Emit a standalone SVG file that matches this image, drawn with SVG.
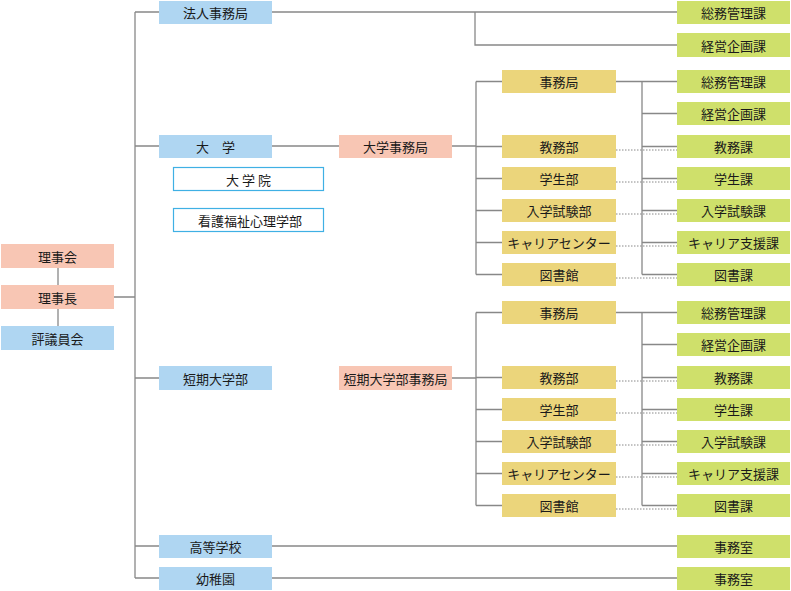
<svg xmlns="http://www.w3.org/2000/svg" width="791" height="591" viewBox="0 0 791 591">
<style>
text{font-family:"Noto Sans CJK JP","Noto Sans",sans-serif;font-size:13px;fill:#1a1a1a;text-anchor:middle;dominant-baseline:central}
.b{fill:#afd6f2}.s{fill:#f8c6b4}.y{fill:#ebd57b}.g{fill:#cfe06b}.o{fill:#fff;stroke:#3fb0e4;stroke-width:1.2}
.ln{fill:none;stroke:#888;stroke-width:1.3}
.dt{fill:none;stroke:#888;stroke-width:1;stroke-dasharray:1.5 1.5}
</style>
<g id="connectors">
<path class="ln" d="M58 256V338M114 297H135M135 12V578M135 12H159M135 146H159M135 378H159M135 546H159M135 578H159"/>
<path class="ln" d="M272 12H677M475 12V45H677M272 146H339M272 546H677M272 578H677"/>
<path class="ln" d="M452 146H476M476 81.5V274.5M476 81.5H502M476 146.5H502M476 178.5H502M476 210.5H502M476 242.5H502M476 274.5H502"/>
<path class="ln" d="M616 81.5H677M642 81.5V274.5M642 113.5H677M642 146.5H677M642 178.5H677M642 210.5H677M642 242.5H677M642 274.5H677"/>
<path class="dt" d="M616 150H677M616 182H677M616 214H677M616 246H677M616 278H677"/>
<path class="ln" d="M452 378H476M476 312.5V505.5M476 312.5H502M476 377.5H502M476 409.5H502M476 441.5H502M476 473.5H502M476 505.5H502"/>
<path class="ln" d="M616 312.5H677M642 312.5V505.5M642 344.5H677M642 377.5H677M642 409.5H677M642 441.5H677M642 473.5H677M642 505.5H677"/>
<path class="dt" d="M616 381H677M616 413H677M616 445H677M616 477H677M616 509H677"/>
</g>
<g id="rijikai"><rect class="s" x="1" y="244" width="113" height="24"/><text x="57.5" y="256">理事会</text></g>
<g id="rijicho"><rect class="s" x="1" y="285" width="113" height="24"/><text x="57.5" y="297">理事長</text></g>
<g id="hyogiinkai"><rect class="b" x="1" y="326" width="113" height="24"/><text x="57.5" y="338">評議員会</text></g>
<g id="hojin"><rect class="b" x="159" y="1" width="113" height="23"/><text x="215.5" y="12.5">法人事務局</text></g>
<g id="daigaku"><rect class="b" x="159" y="135" width="113" height="23"/><text x="215.5" y="146.5">大　学</text></g>
<g id="daigakuin"><rect class="o" x="173.5" y="167.5" width="150" height="23"/><text x="250" y="179" letter-spacing="3">大学院</text></g>
<g id="kango"><rect class="o" x="173.5" y="208.5" width="150" height="23"/><text x="250" y="220">看護福祉心理学部</text></g>
<g id="tandai"><rect class="b" x="159" y="366" width="113" height="24"/><text x="215.5" y="378">短期大学部</text></g>
<g id="koko"><rect class="b" x="159" y="535" width="113" height="23"/><text x="215.5" y="546.5">高等学校</text></g>
<g id="yochien"><rect class="b" x="159" y="567" width="113" height="23"/><text x="215.5" y="578.5">幼稚園</text></g>
<g id="daigaku-jimu"><rect class="s" x="339" y="135" width="113" height="23"/><text x="395.5" y="146.5">大学事務局</text></g>
<g id="tandai-jimu"><rect class="s" x="339" y="366" width="113" height="24"/><text x="395.5" y="378">短期大学部事務局</text></g>
<g id="u-jimukyoku"><rect class="y" x="502" y="70" width="114" height="23"/><text x="559" y="81.5">事務局</text></g>
<g id="u-kyomu"><rect class="y" x="502" y="135" width="114" height="23"/><text x="559" y="146.5">教務部</text></g>
<g id="u-gakusei"><rect class="y" x="502" y="167" width="114" height="23"/><text x="559" y="178.5">学生部</text></g>
<g id="u-nyushi"><rect class="y" x="502" y="199" width="114" height="23"/><text x="559" y="210.5">入学試験部</text></g>
<g id="u-career"><rect class="y" x="502" y="231" width="114" height="23"/><text x="559" y="242.5">キャリアセンター</text></g>
<g id="u-tosho"><rect class="y" x="502" y="263" width="114" height="23"/><text x="559" y="274.5">図書館</text></g>
<g id="t-jimukyoku"><rect class="y" x="502" y="301" width="114" height="23"/><text x="559" y="312.5">事務局</text></g>
<g id="t-kyomu"><rect class="y" x="502" y="366" width="114" height="23"/><text x="559" y="377.5">教務部</text></g>
<g id="t-gakusei"><rect class="y" x="502" y="398" width="114" height="23"/><text x="559" y="409.5">学生部</text></g>
<g id="t-nyushi"><rect class="y" x="502" y="430" width="114" height="23"/><text x="559" y="441.5">入学試験部</text></g>
<g id="t-career"><rect class="y" x="502" y="462" width="114" height="23"/><text x="559" y="473.5">キャリアセンター</text></g>
<g id="t-tosho"><rect class="y" x="502" y="494" width="114" height="23"/><text x="559" y="505.5">図書館</text></g>
<g id="h-somu"><rect class="g" x="677" y="1" width="113" height="23"/><text x="733.5" y="12.5">総務管理課</text></g>
<g id="h-keiei"><rect class="g" x="677" y="33" width="113" height="24"/><text x="733.5" y="45">経営企画課</text></g>
<g id="u-somu"><rect class="g" x="677" y="70" width="113" height="23"/><text x="733.5" y="81.5">総務管理課</text></g>
<g id="u-keiei"><rect class="g" x="677" y="102" width="113" height="23"/><text x="733.5" y="113.5">経営企画課</text></g>
<g id="u-kyomuka"><rect class="g" x="677" y="135" width="113" height="23"/><text x="733.5" y="146.5">教務課</text></g>
<g id="u-gakuseika"><rect class="g" x="677" y="167" width="113" height="23"/><text x="733.5" y="178.5">学生課</text></g>
<g id="u-nyushika"><rect class="g" x="677" y="199" width="113" height="23"/><text x="733.5" y="210.5">入学試験課</text></g>
<g id="u-shienka"><rect class="g" x="677" y="231" width="113" height="23"/><text x="733.5" y="242.5">キャリア支援課</text></g>
<g id="u-toshoka"><rect class="g" x="677" y="263" width="113" height="23"/><text x="733.5" y="274.5">図書課</text></g>
<g id="t-somu"><rect class="g" x="677" y="301" width="113" height="23"/><text x="733.5" y="312.5">総務管理課</text></g>
<g id="t-keiei"><rect class="g" x="677" y="333" width="113" height="23"/><text x="733.5" y="344.5">経営企画課</text></g>
<g id="t-kyomuka"><rect class="g" x="677" y="366" width="113" height="23"/><text x="733.5" y="377.5">教務課</text></g>
<g id="t-gakuseika"><rect class="g" x="677" y="398" width="113" height="23"/><text x="733.5" y="409.5">学生課</text></g>
<g id="t-nyushika"><rect class="g" x="677" y="430" width="113" height="23"/><text x="733.5" y="441.5">入学試験課</text></g>
<g id="t-shienka"><rect class="g" x="677" y="462" width="113" height="23"/><text x="733.5" y="473.5">キャリア支援課</text></g>
<g id="t-toshoka"><rect class="g" x="677" y="494" width="113" height="23"/><text x="733.5" y="505.5">図書課</text></g>
<g id="koko-jimu"><rect class="g" x="677" y="535" width="113" height="23"/><text x="733.5" y="546.5">事務室</text></g>
<g id="yochien-jimu"><rect class="g" x="677" y="567" width="113" height="23"/><text x="733.5" y="578.5">事務室</text></g>
</svg>
